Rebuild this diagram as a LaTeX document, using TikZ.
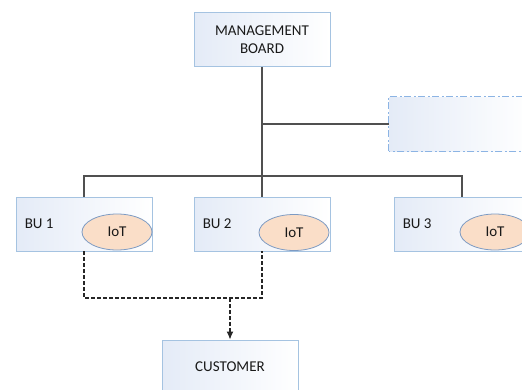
\documentclass[tikz,border=0pt]{standalone}
\usepackage{fontspec}
\setmainfont{Carlito}
\usetikzlibrary{arrows.meta,shapes.geometric}
\definecolor{boxline}{RGB}{165,195,225}
\definecolor{boxfill}{RGB}{228,235,247}
\definecolor{auxline}{RGB}{140,180,228}
\definecolor{iotfill}{RGB}{250,222,200}
\definecolor{iotline}{RGB}{125,155,195}
\definecolor{conncol}{RGB}{80,80,80}
\definecolor{txt}{RGB}{25,25,25}
\tikzset{
  orgbox/.style={draw=boxline, line width=0.9pt, left color=boxfill, right color=white,
    minimum width=136pt, minimum height=54pt, inner sep=0pt, align=center,
    font=\fontsize{15}{18}\selectfont, text=txt},
  auxbox/.style={left color=boxfill, right color=white,
    minimum width=142pt, minimum height=54pt},
  auxborder/.style={draw=auxline, line width=1.1pt, dash pattern=on 7pt off 2.5pt on 2pt off 2.5pt},
  iot/.style={ellipse, draw=iotline, line width=0.8pt, fill=iotfill, minimum width=70pt,
    minimum height=36pt, inner sep=0pt, font=\fontsize{15}{18}\selectfont, text=txt},
  bulabel/.style={anchor=west, font=\fontsize{15}{18}\selectfont, text=txt, inner sep=0pt},
  conn/.style={draw=conncol, line width=1.3pt},
  dconn/.style={draw=black!85, line width=1.2pt, dash pattern=on 4pt off 2pt},
}
\begin{document}
\begin{tikzpicture}[x=1pt,y=-1pt]
\useasboundingbox (0,0) rectangle (522,389);
\clip (0,0) rectangle (522,389);
% nodes
\node[orgbox] (mgmt) at (262,39.5) {MANAGEMENT\\BOARD};
\node[auxbox] (aux) at (460,124) {};
\draw[auxborder] (aux.south west) rectangle (aux.north east);
\node[orgbox] (bu1) at (84,224) {};
\node[orgbox] (bu2) at (262,224) {};
\node[orgbox] (bu3) at (462,224) {};
\node[orgbox] (cust) at (230,367) {CUSTOMER};
\node[bulabel] (l1) at ([xshift=9pt]bu1.west) {BU 1};
\node[bulabel] (l2) at ([xshift=9pt]bu2.west) {BU 2};
\node[bulabel] (l3) at ([xshift=9pt]bu3.west) {BU 3};
\node[iot] (iot1) at (117,232) {IoT};
\node[iot] (iot2) at (294,232.5) {IoT};
\node[iot] (iot3) at (495,232) {IoT};
% connectors
\coordinate (bus) at (262,176);
\coordinate (dj) at (230,298);
\draw[conn] (mgmt.south) -- (bu2.north);
\draw[conn] (mgmt.south |- aux.west) -- (aux.west);
\draw[conn] (bu1.north) |- (bus) -| (bu3.north);
\draw[dconn] (bu1.south) |- (dj) -| (bu2.south);
\draw[dconn, -{Latex[length=8pt,width=7pt]}] (dj) -- (cust.north);
\end{tikzpicture}
\end{document}
